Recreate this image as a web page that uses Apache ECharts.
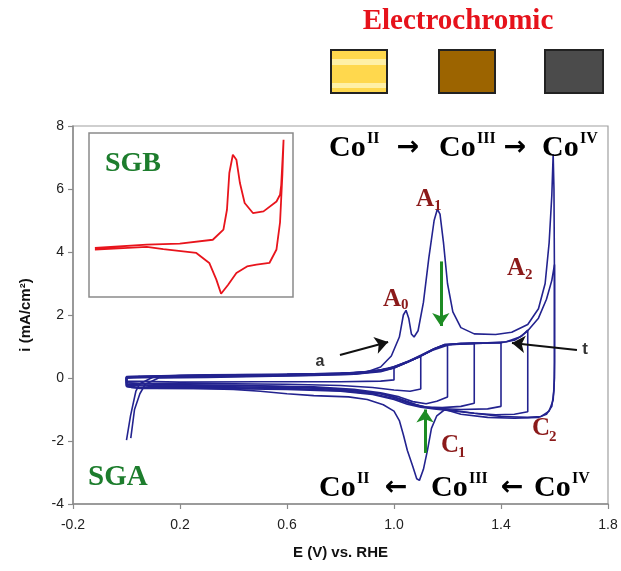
<!DOCTYPE html>
<html>
<head>
<meta charset="utf-8">
<script src="https://cdn.jsdelivr.net/npm/echarts@6.0.0/dist/echarts.min.js"></script>
<style>
  html, body { margin: 0; padding: 0; background: #fff; }
  #chart { width: 621px; height: 571px; }
</style>
</head>
<body>
<div id="chart"></div>
<script>
// Axis ranges and tick labels
const eRange = [-0.2, 1.8];     // E (V) vs. RHE
const eStep = 0.4;
const iRange = [-4, 8];         // i (mA/cm2)
const iStep = 2;

// SGA cyclic voltammograms, [E (V), i (mA/cm2)]
// first full scan to 1.6 V with A0 / A1 / C1 features
const scanFull1 = [
  [0.0, -1.97], [0.015, -1.2], [0.035, -0.42], [0.05, -0.18], [0.1, 0.03], [0.2, 0.08],
  [0.4, 0.1], [0.6, 0.12], [0.8, 0.15], [0.9, 0.2], [0.95, 0.35], [0.99, 0.7],
  [1.02, 1.3], [1.035, 2.0], [1.045, 2.15], [1.055, 1.9], [1.065, 1.4], [1.075, 1.3],
  [1.09, 1.5], [1.11, 2.4], [1.13, 3.8], [1.15, 5.0], [1.162, 5.36], [1.172, 5.2],
  [1.185, 4.3], [1.2, 3.0], [1.22, 2.1], [1.25, 1.6], [1.3, 1.4], [1.38, 1.38],
  [1.44, 1.45], [1.5, 1.7], [1.54, 2.2], [1.565, 3.0], [1.58, 4.3], [1.59, 5.8],
  [1.595, 7.1], [1.598, 6.0], [1.6, 3.0], [1.6, 0.5], [1.598, -0.4], [1.59, -0.9],
  [1.57, -1.15], [1.54, -1.25], [1.45, -1.28], [1.35, -1.25], [1.25, -1.15], [1.19, -1.0],
  [1.16, -1.2], [1.14, -1.6], [1.125, -2.3], [1.11, -2.9], [1.095, -3.25], [1.085, -3.2],
  [1.07, -2.8], [1.05, -2.3], [1.035, -1.8], [1.02, -1.35], [1.0, -1.05], [0.96, -0.85],
  [0.9, -0.68], [0.83, -0.6], [0.7, -0.56], [0.6, -0.5], [0.5, -0.42], [0.4, -0.36],
  [0.25, -0.33], [0.1, -0.32], [0.02, -0.3], [0.0, -0.25], [0.0, 0.0], [0.05, 0.05]
];
// second full scan to 1.6 V
const scanFull2 = [
  [0.016, -1.91], [0.03, -1.0], [0.05, -0.5], [0.07, -0.2], [0.12, 0.0], [0.3, 0.02],
  [0.5, 0.05], [0.7, 0.08], [0.85, 0.12], [0.95, 0.2], [1.0, 0.32], [1.05, 0.5],
  [1.1, 0.7], [1.15, 0.92], [1.19, 1.05], [1.25, 1.1], [1.35, 1.12], [1.42, 1.15],
  [1.47, 1.3], [1.5, 1.5], [1.54, 1.9], [1.57, 2.5], [1.59, 3.1], [1.6, 3.6],
  [1.6, 2.0], [1.6, 0.0], [1.595, -0.7], [1.58, -1.05], [1.55, -1.22], [1.5, -1.25],
  [1.4, -1.22], [1.3, -1.12], [1.2, -1.0], [1.15, -0.95], [1.1, -0.9], [1.05, -0.75],
  [1.0, -0.6], [0.95, -0.5], [0.85, -0.4], [0.7, -0.3], [0.5, -0.25], [0.3, -0.22],
  [0.1, -0.2], [0.0, -0.15], [0.0, 0.0]
];
// scans with the upper limit stepped from 1.0 V to 1.5 V
const scanRev10 = [
  [0.0, -0.1], [0.0, 0.03], [0.15, 0.06], [0.4, 0.08], [0.7, 0.12], [0.88, 0.18],
  [0.95, 0.25], [1.0, 0.32], [1.0, -0.06], [0.95, -0.1], [0.8, -0.12], [0.5, -0.12],
  [0.2, -0.13], [0.0, -0.1]
];
const scanRev11 = [
  [0.0, -0.15], [0.0, 0.04], [0.2, 0.08], [0.5, 0.1], [0.8, 0.14], [0.92, 0.2],
  [0.98, 0.3], [1.03, 0.45], [1.07, 0.58], [1.1, 0.68], [1.1, -0.35], [1.06, -0.42],
  [1.0, -0.38], [0.92, -0.3], [0.8, -0.24], [0.6, -0.2], [0.3, -0.18], [0.05, -0.18],
  [0.0, -0.15]
];
const scanRev12 = [
  [0.0, -0.2], [0.0, 0.02], [0.2, 0.06], [0.5, 0.09], [0.8, 0.13], [0.93, 0.22],
  [1.0, 0.33], [1.05, 0.5], [1.1, 0.7], [1.15, 0.9], [1.2, 1.04], [1.2, -0.6],
  [1.16, -0.74], [1.12, -0.82], [1.07, -0.75], [1.02, -0.6], [0.95, -0.47], [0.85, -0.36],
  [0.7, -0.28], [0.4, -0.24], [0.1, -0.24], [0.0, -0.2]
];
const scanRev13 = [
  [0.0, -0.22], [0.0, 0.05], [0.3, 0.1], [0.6, 0.12], [0.85, 0.16], [0.95, 0.26],
  [1.0, 0.36], [1.05, 0.52], [1.1, 0.72], [1.15, 0.93], [1.19, 1.06], [1.25, 1.09],
  [1.3, 1.1], [1.3, -0.8], [1.25, -0.9], [1.18, -0.94], [1.12, -0.92], [1.07, -0.83],
  [1.02, -0.66], [0.95, -0.5], [0.85, -0.4], [0.7, -0.32], [0.4, -0.28], [0.1, -0.27],
  [0.0, -0.22]
];
const scanRev14 = [
  [0.0, -0.25], [0.0, 0.0], [0.3, 0.04], [0.6, 0.07], [0.85, 0.12], [0.95, 0.22],
  [1.0, 0.32], [1.05, 0.5], [1.1, 0.7], [1.15, 0.92], [1.19, 1.05], [1.3, 1.1],
  [1.4, 1.12], [1.4, -0.9], [1.35, -0.98], [1.25, -1.0], [1.17, -0.97], [1.12, -0.93],
  [1.06, -0.82], [1.0, -0.65], [0.92, -0.5], [0.8, -0.4], [0.6, -0.33], [0.3, -0.3],
  [0.05, -0.3], [0.0, -0.25]
];
const scanRev15 = [
  [0.0, -0.28], [0.0, 0.02], [0.3, 0.06], [0.6, 0.09], [0.85, 0.14], [0.95, 0.24],
  [1.0, 0.34], [1.05, 0.52], [1.1, 0.71], [1.15, 0.93], [1.19, 1.06], [1.3, 1.1],
  [1.4, 1.12], [1.45, 1.2], [1.48, 1.35], [1.5, 1.52], [1.5, -1.07], [1.45, -1.15],
  [1.38, -1.17], [1.3, -1.12], [1.22, -1.05], [1.15, -0.98], [1.1, -0.93], [1.05, -0.83],
  [1.0, -0.68], [0.92, -0.52], [0.8, -0.42], [0.6, -0.36], [0.3, -0.33], [0.05, -0.33],
  [0.0, -0.28]
];

// SGB voltammogram for the inset (arbitrary current units)
const sgbScan = [
  [0.0, 0.0], [0.44, 0.22], [0.72, 0.29], [1.0, 0.55], [1.09, 1.22], [1.12, 2.55],
  [1.14, 5.0], [1.17, 6.22], [1.2, 5.89], [1.23, 4.33], [1.27, 3.0], [1.34, 2.33],
  [1.43, 2.44], [1.54, 3.1], [1.57, 3.55], [1.58, 4.2], [1.6, 7.22], [1.59, 4.9],
  [1.57, 1.7], [1.54, -0.1], [1.48, -1.0], [1.37, -1.11], [1.29, -1.23], [1.2, -1.67],
  [1.13, -2.45], [1.07, -3.05], [1.03, -2.11], [0.97, -1.0], [0.86, -0.33], [0.58, -0.07],
  [0.44, 0.07], [0.0, -0.11]
];
const sgbRangeE = [-0.05, 1.68];
const sgbRangeI = [-3.27, 7.67];

// Arrows drawn in data coordinates: [from, to]
const greenArrows = [
  [[1.175, 3.7], [1.175, 1.65]],
  [[1.116, -2.38], [1.116, -1.0]]
];
const blackArrows = [
  [[0.798, 0.73], [0.978, 1.14]],
  [[1.684, 0.89], [1.441, 1.11]]
];

const BLUE = '#23238f';
const SERIF = '"Liberation Serif", "Times New Roman", serif';
const SANS = '"Liberation Sans", Arial, sans-serif';
const MAROON = '#8b1a1a';
const GREEN = '#1d7d2d';

const scans = [scanFull1, scanFull2, scanRev10, scanRev11, scanRev12, scanRev13, scanRev14, scanRev15];

const series = scans.map((d, k) => ({
  type: 'line',
  name: 'scan' + k,
  xAxisIndex: 0, yAxisIndex: 0,
  data: d,
  showSymbol: false,
  symbol: 'none',
  lineStyle: { color: BLUE, width: 1.6 },
  z: 3
}));

series.push({
  type: 'line',
  name: 'SGB',
  xAxisIndex: 1, yAxisIndex: 1,
  data: sgbScan,
  symbol: 'none',
  lineStyle: { color: '#e8141c', width: 1.8 },
  z: 5
});

const arrowLine = (pair, color, width) => [
  { coord: pair[0], lineStyle: { color, width, type: 'solid' } },
  { coord: pair[1] }
];

series.push({
  type: 'line',
  name: 'arrows',
  xAxisIndex: 0, yAxisIndex: 0,
  data: [],
  markLine: {
    silent: true,
    animation: false,
    symbol: ['none', 'arrow'],
    symbolSize: 13,
    label: { show: false },
    data: greenArrows.map(p => arrowLine(p, '#1e8c24', 3))
      .concat(blackArrows.map(p => arrowLine(p, '#111', 2)))
  }
});

// text helpers
function txt(x, y, text, font, fill, align) {
  return {
    type: 'text', x, y, z: 20,
    style: { text, font, fill, align: align || 'left', verticalAlign: 'middle' }
  };
}
const coFont = 'bold 30px ' + SERIF;
const supFont = 'bold 16px ' + SERIF;
const arrowFont = 'bold 27px "DejaVu Sans", sans-serif';
const peakFont = 'bold 25px ' + SERIF;
const subFont = 'bold 15px ' + SERIF;

const graphic = [
  txt(458, 22, 'Electrochromic', 'bold 29px ' + SERIF, '#e6121b', 'center'),
  { type: 'rect', shape: { x: 331, y: 50, width: 56, height: 43 }, style: { fill: '#ffd84d', stroke: '#222', lineWidth: 2 } },
  { type: 'rect', shape: { x: 332, y: 59, width: 54, height: 6 }, style: { fill: '#fff0a6' } },
  { type: 'rect', shape: { x: 332, y: 83, width: 54, height: 5 }, style: { fill: '#fff0a6' } },
  { type: 'rect', shape: { x: 439, y: 50, width: 56, height: 43 }, style: { fill: '#9c6400', stroke: '#222', lineWidth: 2 } },
  { type: 'rect', shape: { x: 545, y: 50, width: 58, height: 43 }, style: { fill: '#4b4b4b', stroke: '#222', lineWidth: 2 } },

  // oxidation sequence
  txt(329, 148, 'Co', coFont, '#000'),
  txt(367, 139, 'II', supFont, '#000'),
  txt(408, 148, '\u2192', arrowFont, '#000', 'center'),
  txt(439, 148, 'Co', coFont, '#000'),
  txt(477, 139, 'III', supFont, '#000'),
  txt(515, 148, '\u2192', arrowFont, '#000', 'center'),
  txt(542, 148, 'Co', coFont, '#000'),
  txt(580, 139, 'IV', supFont, '#000'),

  // reduction sequence
  txt(319, 488, 'Co', coFont, '#000'),
  txt(357, 479, 'II', supFont, '#000'),
  txt(396, 488, '\u2190', arrowFont, '#000', 'center'),
  txt(431, 488, 'Co', coFont, '#000'),
  txt(469, 479, 'III', supFont, '#000'),
  txt(512, 488, '\u2190', arrowFont, '#000', 'center'),
  txt(534, 488, 'Co', coFont, '#000'),
  txt(572, 479, 'IV', supFont, '#000'),

  // peak labels
  txt(416, 200, 'A', peakFont, MAROON), txt(434, 206, '1', subFont, MAROON),
  txt(383, 300, 'A', peakFont, MAROON), txt(401, 305, '0', subFont, MAROON),
  txt(507, 269, 'A', peakFont, MAROON), txt(525, 275, '2', subFont, MAROON),
  txt(441, 446, 'C', peakFont, MAROON), txt(458, 453, '1', subFont, MAROON),
  txt(532, 429, 'C', peakFont, MAROON), txt(549, 437, '2', subFont, MAROON),

  // sample names
  txt(105, 164, 'SGB', 'bold 28px ' + SERIF, GREEN),
  txt(88, 478, 'SGA', 'bold 29px ' + SERIF, GREEN),

  // arrow captions
  txt(320, 362, 'a', 'bold 16px ' + SANS, '#333', 'center'),
  txt(585, 349, 't', 'bold 17px ' + SANS, '#333', 'center')
];

const axisCommon = {
  axisLine: { show: true, onZero: false, lineStyle: { color: '#8a8a8a', width: 1.5 } },
  axisTick: { show: true, length: 5, lineStyle: { color: '#8a8a8a', width: 1.2 } },
  splitLine: { show: false },
  nameTextStyle: { fontFamily: SANS, fontWeight: 'bold', fontSize: 15, color: '#111' }
};

const option = {
  animation: false,
  backgroundColor: '#fff',
  grid: [
    { left: 73, right: 13, top: 126, bottom: 67, show: true, borderColor: '#a0a0a0', borderWidth: 1.2, backgroundColor: 'transparent' },
    { left: 89, top: 133, width: 204, height: 164, show: true, borderColor: '#8a8a8a', borderWidth: 1.5, backgroundColor: '#fff', z: 4 }
  ],
  xAxis: [
    Object.assign({}, axisCommon, {
      type: 'value', gridIndex: 0,
      min: eRange[0], max: eRange[1], interval: eStep,
      name: 'E (V) vs. RHE', nameLocation: 'middle', nameGap: 41,
      axisLabel: { formatter: v => v.toFixed(1), fontFamily: SANS, fontSize: 14, color: '#222', margin: 14 }
    }),
    { type: 'value', gridIndex: 1, min: sgbRangeE[0], max: sgbRangeE[1], show: false, splitLine: { show: false } }
  ],
  yAxis: [
    Object.assign({}, axisCommon, {
      type: 'value', gridIndex: 0,
      min: iRange[0], max: iRange[1], interval: iStep,
      name: 'i (mA/cm\u00B2)', nameLocation: 'middle', nameGap: 40,
      axisLabel: { formatter: v => String(Math.round(v)), fontFamily: SANS, fontSize: 14, color: '#222', margin: 9 }
    }),
    { type: 'value', gridIndex: 1, min: sgbRangeI[0], max: sgbRangeI[1], show: false, splitLine: { show: false } }
  ],
  series,
  graphic
};

const chart = echarts.init(document.getElementById('chart'), null, { renderer: 'canvas' });
chart.setOption(option);
</script>
</body>
</html>
